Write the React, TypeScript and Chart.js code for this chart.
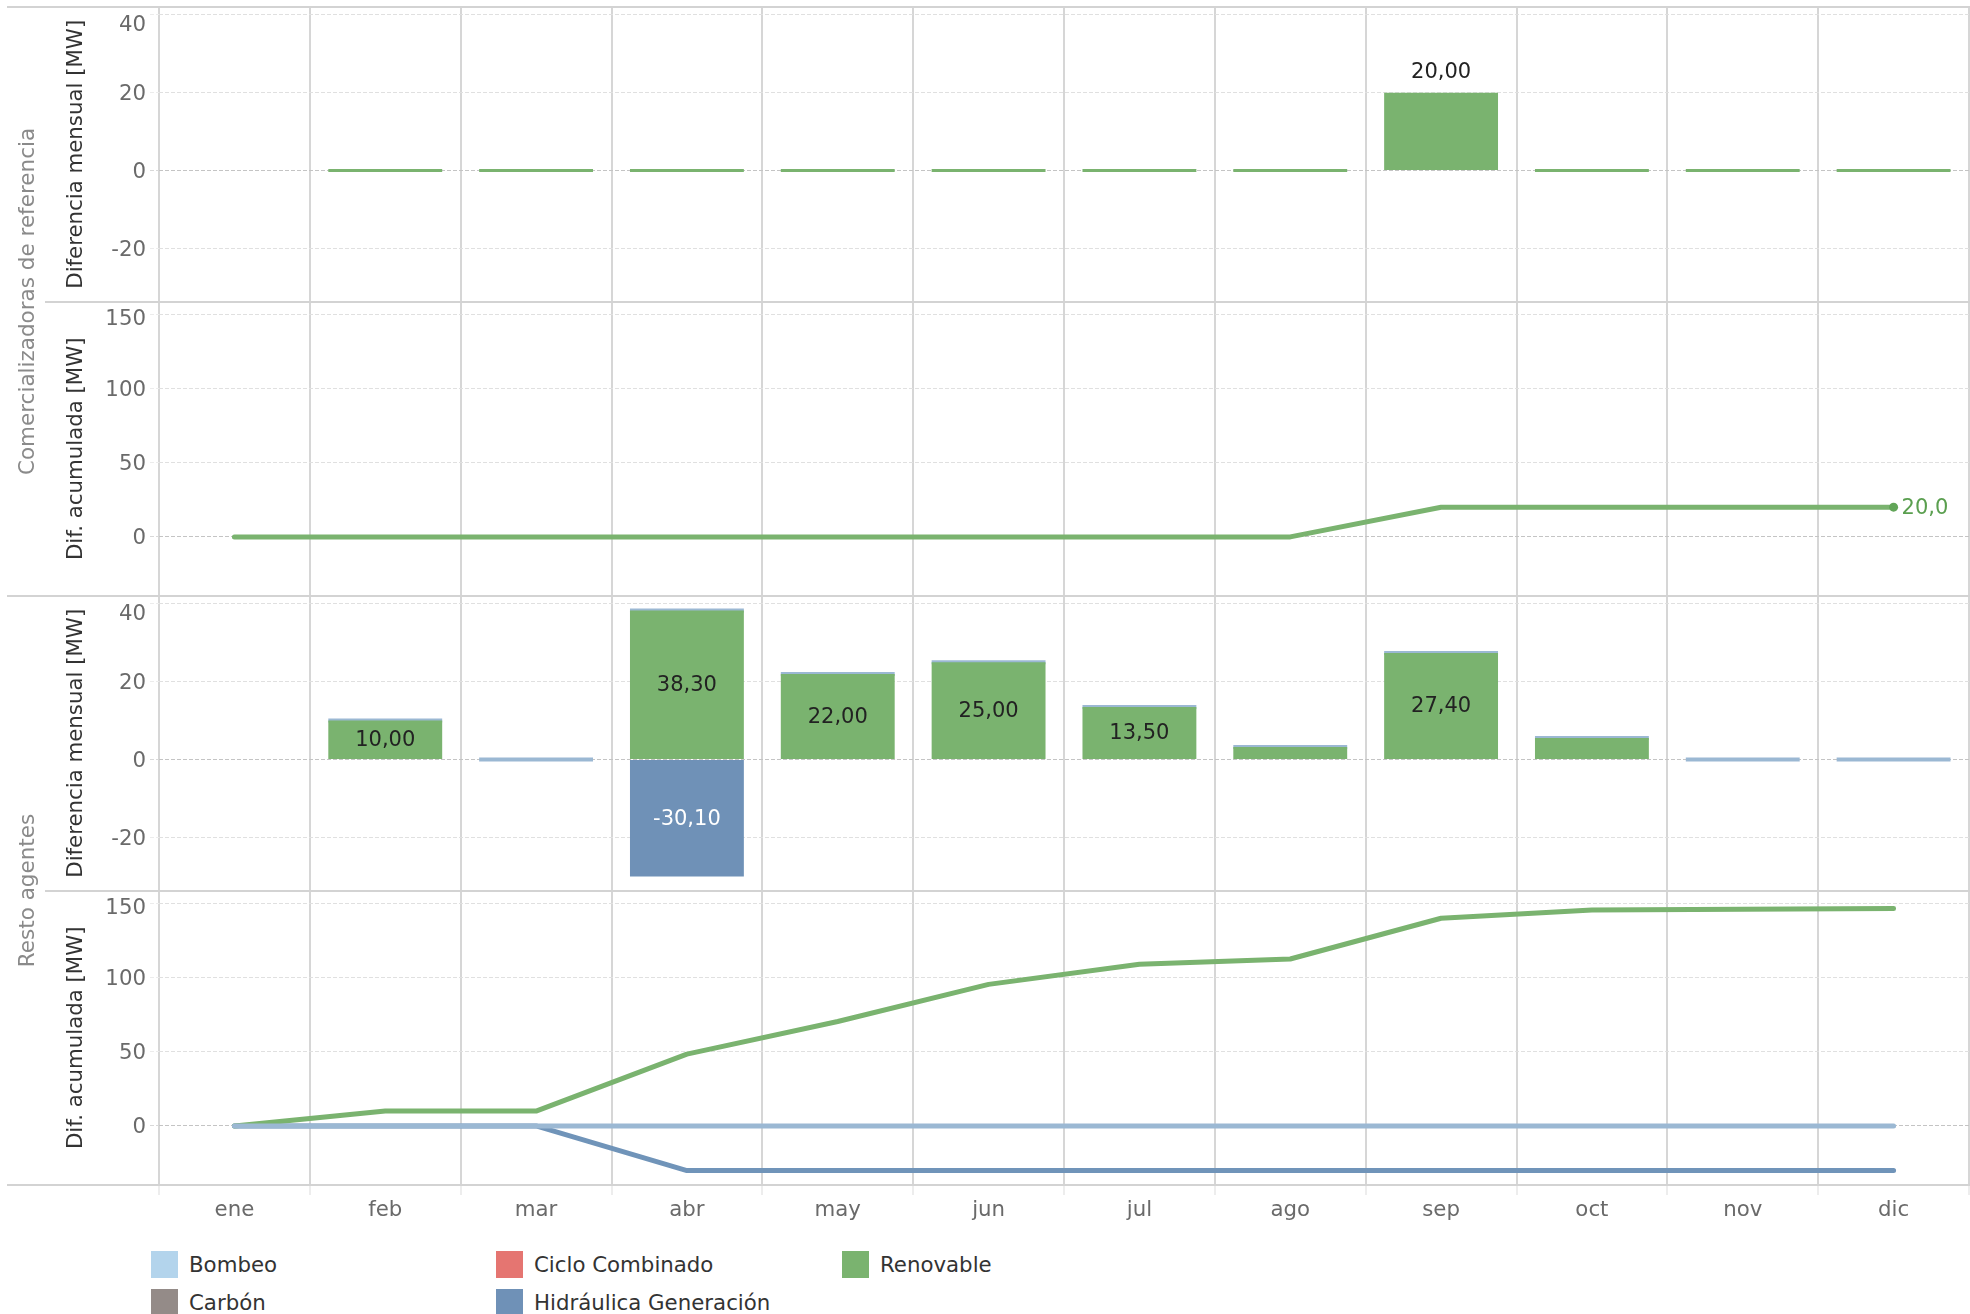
import React, { useEffect, useRef } from 'react';
import { Chart, registerables } from 'chart.js';

Chart.register(...registerables);

const FONT = 'DejaVu Sans';
const FS = 21.3;

// ---- categories ----
const months = ['ene', 'feb', 'mar', 'abr', 'may', 'jun', 'jul', 'ago', 'sep', 'oct', 'nov', 'dic'];

// ---- Comercializadoras de referencia ----
const comMonthlyRenovable = [null, 0, 0, 0, 0, 0, 0, 0, 20, 0, 0, 0];
const comCumRenovable = [0, 0, 0, 0, 0, 0, 0, 0, 20, 20, 20, 20];

// ---- Resto agentes ----
const restoMonthlyRenovable = [null, 10, 0, 38.3, 22, 25, 13.5, 3.2, 27.4, 5.5, 0, 0];
const restoMonthlyHidraulica = [null, null, null, -30.1, null, null, null, null, null, null, null, null];
const restoMonthlyBombeo = [null, 0, 0, 0, 0, 0, 0, 0, 0, 0, 0, 0];
const restoCumRenovable = [0, 10, 10, 48.3, 70.3, 95.3, 108.8, 112.4, 139.8, 145.3, 145.8, 146.3];
const restoCumHidraulica = [0, 0, 0, -30.1, -30.1, -30.1, -30.1, -30.1, -30.1, -30.1, -30.1, -30.1];
const restoCumBombeo = [0, 0, 0, 0, 0, 0, 0, 0, 0, 0, 0, 0];

// ---- axes ----
const monthlyTicks = [-20, 0, 20, 40];
const cumulativeTicks = [0, 50, 100, 150];
const monthlyMin = -33.7;
const monthlyMax = 42.05;
const cumulativeMin = -39.8;
const cumulativeMax = 158.5;

const monthlyTitle = 'Diferencia mensual [MW]';
const cumulativeTitle = 'Dif. acumulada [MW]';
const groupTitles = ['Comercializadoras de referencia', 'Resto agentes'];

// ---- colours ----
const C_RENOV = '#7ab36f';
const C_HIDRA = '#6f91b7';
const C_BOMBEO_MARK = '#9bb8d3';

const legendItems = [
  { label: 'Bombeo', color: '#b3d4ec' },
  { label: 'Carbón', color: '#948b88' },
  { label: 'Ciclo Combinado', color: '#e57571' },
  { label: 'Hidráulica Generación', color: '#6f91b7' },
  { label: 'Renovable', color: '#7ab36f' },
];

const fmt = (v: number, d: number) => v.toFixed(d).replace('.', ',');

const yAxis = (min: number, max: number, ticks: number[], title: string, weight: number, stacked: boolean) => ({
  type: 'linear',
  position: 'left',
  stack: 'panels',
  stackWeight: 1,
  weight,
  stacked,
  min,
  max,
  afterBuildTicks: (s: any) => {
    s.ticks = ticks.map((v) => ({ value: v }));
  },
  afterFit: (s: any) => {
    s.width = 159;
    s.paddingTop = 0;
    s.paddingBottom = 0;
    s.paddingLeft = 0;
    s.paddingRight = 0;
  },
  grid: {
    color: (c: any) => (c.tick && c.tick.value === 0 ? '#c4c4c4' : '#e0e0e0'),
    lineWidth: 1,
    drawTicks: true,
    tickLength: 9,
    tickColor: (c: any) => (c.tick && c.tick.value === 0 ? '#d8d8d8' : '#ececec'),
    tickBorderDash: [4, 2],
  },
  border: { display: false, dash: [4, 2] },
  ticks: { display: false },
  title: {
    display: true,
    text: title,
    color: '#333333',
    font: { family: FONT, size: FS },
    padding: { top: 64, bottom: 0 },
  },
});

// y tick labels: kept inside each panel like the original
const tickLabelPlugin = {
  id: 'panelTickLabels',
  afterDraw(chart: any) {
    const { ctx, scales } = chart;
    ctx.save();
    ctx.font = `${FS}px "${FONT}"`;
    ctx.fillStyle = '#6a6a6a';
    ctx.textAlign = 'right';
    ctx.textBaseline = 'middle';
    ['y1', 'y2', 'y3', 'y4'].forEach((id) => {
      const s = scales[id];
      s.ticks.forEach((t: any) => {
        const y = Math.max(s.getPixelForValue(t.value) + 2, s.top + 18);
        ctx.fillText(String(t.value), s.right - 13, y);
      });
    });
    ctx.restore();
  },
};

const labelPlugin = {
  id: 'valueLabels',
  afterDatasetsDraw(chart: any) {
    const ctx = chart.ctx;
    chart.data.datasets.forEach((ds: any, i: number) => {
      const mode = ds.labelMode;
      if (!mode) return;
      const meta = chart.getDatasetMeta(i);
      ctx.save();
      ctx.font = `21px "${FONT}"`;
      ctx.fillStyle = ds.labelColor;
      ctx.textBaseline = 'middle';
      meta.data.forEach((el: any, j: number) => {
        const v = ds.data[j];
        if (v === null || v === undefined) return;
        if (mode === 'above') {
          if (Math.abs(v) < 1) return;
          ctx.textAlign = 'center';
          ctx.fillText(fmt(v, 2), el.x, el.y - 20);
        } else if (mode === 'inside') {
          if (Math.abs(v) < 8) return;
          ctx.textAlign = 'center';
          ctx.fillText(fmt(v, 2), el.x, (el.y + el.base) / 2 + 1);
        } else if (mode === 'end') {
          if (j !== ds.data.length - 1) return;
          ctx.textAlign = 'left';
          ctx.fillText(fmt(v, 1), el.x + 8, el.y + 1);
        }
      });
      ctx.restore();
    });
  },
};

const framePlugin = {
  id: 'frame',
  beforeDatasetsDraw(chart: any) {
    const { ctx, scales } = chart;
    const W = chart.width;
    const lines: [number, number][] = [
      [scales.y1.top, 7],
      [scales.y1.bottom, 45],
      [scales.y2.bottom, 7],
      [scales.y3.bottom, 45],
      [scales.y4.bottom, 7],
    ];
    ctx.save();
    ctx.strokeStyle = '#d3d3d3';
    ctx.lineWidth = 2;
    lines.forEach(([y, x0]) => {
      const yy = Math.round(y);
      ctx.beginPath();
      ctx.moveTo(x0, yy);
      ctx.lineTo(W, yy);
      ctx.stroke();
    });
    ctx.restore();
  },
  afterDraw(chart: any) {
    const { ctx, scales } = chart;
    ctx.save();
    ctx.font = `21.5px "${FONT}"`;
    ctx.fillStyle = '#8a8a8a';
    ctx.textAlign = 'center';
    ctx.textBaseline = 'middle';
    const groups = [
      [scales.y1.top, scales.y2.bottom],
      [scales.y3.top, scales.y4.bottom],
    ];
    groups.forEach(([t, b], i) => {
      ctx.save();
      ctx.translate(28, (t + b) / 2);
      ctx.rotate(-Math.PI / 2);
      ctx.fillText(groupTitles[i], 0, 0);
      ctx.restore();
    });
    ctx.restore();
  },
};

const lineBase = {
  type: 'line',
  borderWidth: 5,
  pointRadius: 0,
  pointHoverRadius: 0,
  tension: 0,
  fill: false,
  borderCapStyle: 'round',
  borderJoinStyle: 'round',
};

export default function App() {
  const ref = useRef<HTMLCanvasElement>(null);

  useEffect(() => {
    if (!ref.current) return;
    const chart = new Chart(ref.current, {
      type: 'bar',
      data: {
        labels: months,
        datasets: [
          // Panel 1: Comercializadoras - diferencia mensual
          {
            type: 'bar',
            label: 'Renovable',
            data: comMonthlyRenovable,
            yAxisID: 'y1',
            backgroundColor: C_RENOV,
            minBarLength: 3,
            order: 1,
            labelMode: 'above',
            labelColor: '#222222',
          },
          // Panel 3: Resto agentes - diferencia mensual
          {
            type: 'bar',
            label: 'Renovable',
            data: restoMonthlyRenovable,
            yAxisID: 'y3',
            backgroundColor: C_RENOV,
            minBarLength: 0,
            order: 1,
            labelMode: 'inside',
            labelColor: '#222222',
          },
          {
            type: 'bar',
            label: 'Hidráulica Generación',
            data: restoMonthlyHidraulica,
            yAxisID: 'y3',
            backgroundColor: C_HIDRA,
            minBarLength: 0,
            order: 2,
            labelMode: 'inside',
            labelColor: '#ffffff',
          },
          {
            type: 'bar',
            label: 'Bombeo',
            data: restoMonthlyBombeo,
            yAxisID: 'y3',
            backgroundColor: C_BOMBEO_MARK,
            minBarLength: 4,
            order: 3,
          },
          // Panel 2: Comercializadoras - acumulada
          {
            ...lineBase,
            label: 'Renovable acumulada',
            data: comCumRenovable,
            yAxisID: 'y2',
            borderColor: C_RENOV,
            backgroundColor: '#62a558',
            pointRadius: (c: any) => (c.dataIndex === months.length - 1 ? 4.5 : 0),
            pointBorderWidth: 0,
            order: 0,
            labelMode: 'end',
            labelColor: '#5a9f4f',
          },
          // Panel 4: Resto agentes - acumulada
          {
            ...lineBase,
            label: 'Bombeo acumulada',
            data: restoCumBombeo,
            yAxisID: 'y4',
            borderColor: C_BOMBEO_MARK,
            order: 0,
          },
          {
            ...lineBase,
            label: 'Renovable acumulada',
            data: restoCumRenovable,
            yAxisID: 'y4',
            borderColor: C_RENOV,
            order: 0,
          },
          {
            ...lineBase,
            label: 'Hidráulica acumulada',
            data: restoCumHidraulica,
            yAxisID: 'y4',
            borderColor: '#7094b9',
            order: 0,
          },
        ] as any,
      },
      options: {
        animation: false,
        responsive: false,
        devicePixelRatio: 1,
        layout: { autoPadding: false, padding: { top: 7, right: 1, bottom: 5, left: 0 } },
        plugins: {
          legend: { display: false },
          tooltip: { enabled: false },
        },
        datasets: {
          bar: { categoryPercentage: 1, barPercentage: 0.755 },
        },
        scales: {
          x: {
            type: 'category',
            stacked: true,
            offset: true,
            afterFit: (s: any) => {
              s.height = 50;
              s.paddingLeft = 0;
              s.paddingRight = 0;
              s.paddingTop = 0;
              s.paddingBottom = 0;
            },
            grid: {
              offset: true,
              color: '#d6d6d6',
              lineWidth: 2,
              drawTicks: true,
              tickLength: 10,
              tickColor: '#ededed',
              tickWidth: 2,
            },
            border: { display: false },
            ticks: {
              color: '#6a6a6a',
              font: { family: FONT, size: FS },
              padding: 3,
              maxRotation: 0,
              autoSkip: false,
            },
          },
          y1: yAxis(monthlyMin, monthlyMax, monthlyTicks, monthlyTitle, 4, true),
          y2: yAxis(cumulativeMin, cumulativeMax, cumulativeTicks, cumulativeTitle, 3, false),
          y3: yAxis(monthlyMin, monthlyMax, monthlyTicks, monthlyTitle, 2, true),
          y4: yAxis(cumulativeMin, cumulativeMax, cumulativeTicks, cumulativeTitle, 1, false),
        } as any,
      },
      plugins: [framePlugin, labelPlugin, tickLabelPlugin],
    } as any);
    return () => chart.destroy();
  }, []);

  const colX = [151, 496, 842];
  const rowY = [1251, 1289];

  return (
    <div
      style={{
        position: 'fixed',
        left: 0,
        top: 0,
        width: 1970,
        height: 1314,
        background: '#ffffff',
        overflow: 'hidden',
        fontFamily: FONT,
      }}
    >
      <canvas
        ref={ref}
        width={1970}
        height={1240}
        style={{ position: 'absolute', left: 0, top: 0, width: 1970, height: 1240 }}
      />
      {legendItems.map((it, i) => {
        const x = colX[Math.floor(i / 2)];
        const y = rowY[i % 2];
        return (
          <div key={it.label} style={{ position: 'absolute', left: x, top: y, height: 27, display: 'flex', alignItems: 'center' }}>
            <div style={{ width: 27, height: 27, background: it.color }} />
            <span style={{ marginLeft: 11, fontSize: FS, color: '#333333', lineHeight: '27px', whiteSpace: 'nowrap' }}>
              {it.label}
            </span>
          </div>
        );
      })}
    </div>
  );
}
